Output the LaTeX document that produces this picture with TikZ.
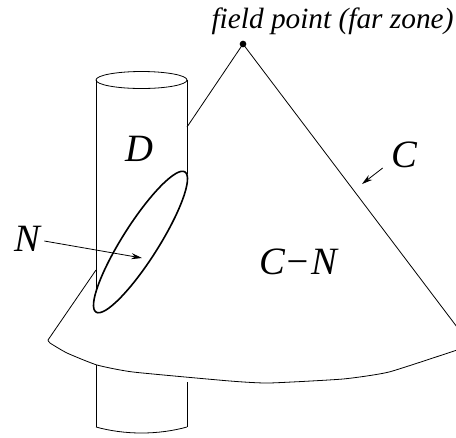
\documentclass[tikz,border=0pt]{standalone}
\usepackage{fontspec}
\setmainfont{Liberation Serif}
\usetikzlibrary{arrows.meta}
\begin{document}
\begin{tikzpicture}[x=0.75pt,y=-0.75pt,line width=0.6pt,>={Stealth[length=8pt,width=4.5pt]},
  biglabel/.style={inner sep=0pt,font=\fontsize{29}{29}\selectfont\itshape},
  smalllabel/.style={inner sep=0pt,font=\fontsize{22}{22}\selectfont\itshape}]
  \useasboundingbox (0,0) rectangle (456,437);
  % cylinder
  \draw (141.5,80) ellipse (45.5 and 8.5);
  \draw (96,80) -- (96,292);
  \draw (187,80) -- (187,174);
  \draw (96,365) -- (96,427);
  \draw (187,382) -- (187,427);
  \draw (96,427) .. controls (125,435) and (158,435) .. (187,427);
  % cone
  \node[circle,fill=black,inner sep=0pt,minimum size=5pt] (apex) at (243,44) {};
  \coordinate (coneleft) at (187,127);
  \coordinate (conemid) at (96,270);
  \coordinate (coneend) at (48,340);
  \coordinate (coneright) at (457,327);
  \draw (apex.center) -- (coneleft);
  \draw (conemid) -- (coneend);
  \draw (apex.center) -- (coneright);
  \draw plot[smooth,tension=0.3] coordinates {(48,340) (50,343) (67,353) (97,365) (133,372) (230,381) (269,383) (343,379) (389,372) (457,350)};
  % intersection
  \draw[line width=1.2pt,rotate around={57.6:(140.5,242)}] (140.5,242) ellipse (83 and 18);
  % labels
  \node[smalllabel] (fieldpoint) at (332.5,21) {field point (far zone)};
  \node[biglabel] (labelD) at (139,149) {D};
  \node[biglabel] (labelC) at (404,155) {C};
  \node[biglabel] (labelN) at (27,239) {N};
  \node[biglabel] (labelCN) at (298,262) {C−N};
  \coordinate (tipN) at (142,258);
  \coordinate (tipC) at (362,184);
  \draw[->] (labelN.east) ++(4,2) -- (tipN);
  \draw[->] (labelC.west) ++(-8,13) -- (tipC);
\end{tikzpicture}
\end{document}
